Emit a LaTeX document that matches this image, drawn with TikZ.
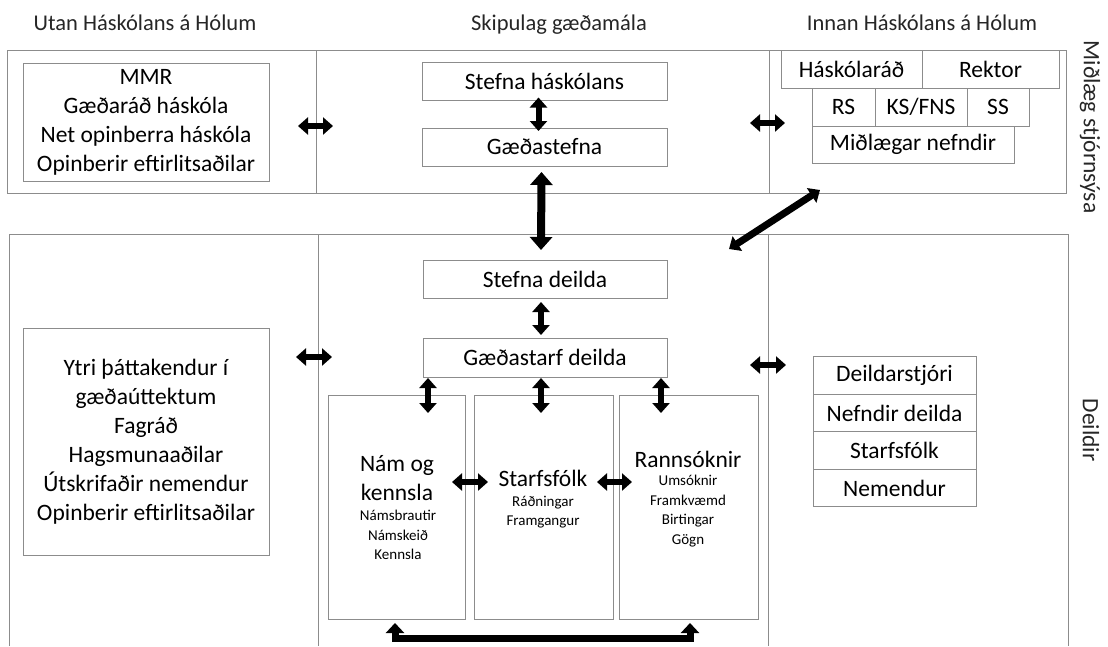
\documentclass[tikz,border=0pt]{standalone}
\usepackage{fontspec}
\setmainfont{Carlito}
\usepackage{tikz}
\usetikzlibrary{arrows.meta, calc, positioning}
\newcommand{\txtbig}{\fontsize{23.5}{29}\selectfont}
\newcommand{\txtsmall}{\fontsize{15}{19.5}\selectfont}
\def\scale{1}

\begin{document}
\begin{tikzpicture}[x=\scale pt, y=-\scale pt, line join=miter,
		frame/.style={draw=gray!90, line width=1pt},
		cell/.style={frame, inner sep=0pt, outer sep=0pt, minimum height=38pt, align=center,
			font=\txtbig, text=black},
		title/.style={anchor=base, font=\fontsize{22.5}{27}\selectfont, text=black!85},
		vlabel/.style={rotate=-90, font=\txtbig, text=black!85},
		dblarrow/.style={line width=6pt, {Triangle[width=17pt,length=10pt]}-{Triangle[width=17pt,length=10pt]}},
		bigarrow/.style={line width=8pt, {Triangle[width=22pt,length=13pt]}-{Triangle[width=22pt,length=13pt]}},
		loopback/.style={line width=7pt, {Triangle[width=18pt,length=10pt]}-{Triangle[width=18pt,length=10pt]}}
	]
	\useasboundingbox (0,0) rectangle (1108,646);

	% column titles
	\node[title] (tout) at (145,30) {Utan Háskólans á Hólum};
	\node[title] (tmid) at (559,30) {Skipulag gæðamála};
	\node[title] (tin) at (922,30) {Innan Háskólans á Hólum};

	% the two bands
	\draw[frame] (7,50) rectangle (1066,193);
	\draw[frame] (316,50) -- (316,193);
	\draw[frame] (769,50) -- (769,193);
	\draw[frame] (9,646) -- (9,234) -- (1068,234) -- (1068,646);
	\draw[frame] (318,234) -- (318,646);
	\draw[frame] (768,234) -- (768,646);

	\node[vlabel] (lblc) at (1090,127) {Miðlæg stjórnsýsa};
	\node[vlabel] (lbld) at (1091,430) {Deildir};

	% top band
	\node[cell, minimum width=246pt, minimum height=118pt] (ext) at (146,122)
		{MMR\\Gæðaráð háskóla\\Net opinberra háskóla\\Opinberir eftirlitsaðilar};
	\node[cell, minimum width=245pt] (sh) at (544.5,81.5) {Stefna háskólans};
	\node[cell, minimum width=245pt] (ge) at (544.5,147) {Gæðastefna};

	\node[cell, minimum width=141pt] (hr) at (851.5,69) {Háskólaráð};
	\node[cell, minimum width=137pt, right=0pt of hr] (rek) {Rektor};
	\node[cell, minimum width=63pt] (rs) at (843.5,107) {RS};
	\node[cell, minimum width=92pt, right=0pt of rs] (ks) {KS/FNS};
	\node[cell, minimum width=62pt, right=0pt of ks] (ss) {SS};
	\node[cell, minimum width=202pt, minimum height=37pt, anchor=north west] (mn) at (rs.south west) {Miðlægar nefndir};

	% bottom band
	\node[cell, minimum width=246pt, minimum height=227pt] (ytri) at (146,441.5)
		{Ytri þáttakendur í\\gæðaúttektum\\Fagráð\\Hagsmunaaðilar\\Útskrifaðir nemendur\\Opinberir eftirlitsaðilar};
	\node[cell, minimum width=244pt] (sd) at (545,279) {Stefna deilda};
	\node[cell, minimum width=244pt, minimum height=39pt] (gd) at (545,357.5) {Gæðastarf deilda};

	\node[cell, minimum width=137pt, minimum height=224pt] (nam) at (396.5,507) {};
	\node[cell, minimum width=139pt, minimum height=224pt] (sta) at (543.5,507) {};
	\node[cell, minimum width=139pt, minimum height=224pt] (ran) at (688.5,507) {};

	\node[align=center, font=\txtbig] (namh) at (397,478) {Nám og\\kennsla};
	\node[align=center, font=\txtsmall] (naml) at (398,535) {Námsbrautir\\Námskeið\\Kennsla};
	\node[align=center, font=\txtbig] (stah) at (543,478) {Starfsfólk};
	\node[align=center, font=\txtsmall] (stal) at (543,512) {Ráðningar\\Framgangur};
	\node[align=center, font=\txtbig] (ranh) at (688,459) {Rannsóknir};
	\node[align=center, font=\txtsmall] (ranl) at (688,511) {Umsóknir\\Framkvæmd\\Birtingar\\Gögn};

	\node[cell, minimum width=163pt, minimum height=37.5pt] (ds) at (894.5,375.5) {Deildarstjóri};
	\node[cell, minimum width=163pt, minimum height=37.5pt, below=0pt of ds] (nd) {Nefndir deilda};
	\node[cell, minimum width=163pt, minimum height=37.5pt, below=0pt of nd] (sf) {Starfsfólk};
	\node[cell, minimum width=163pt, minimum height=37.5pt, below=0pt of sf] (ne) {Nemendur};

	% arrows across the columns
	\coordinate (ua) at (298,126);
	\coordinate (ub) at (333,126);
	\coordinate (ia) at (750,123);
	\coordinate (ib) at (785,123);
	\coordinate (la) at (296,357);
	\coordinate (lb) at (332,357);
	\coordinate (ra) at (750,365);
	\coordinate (rb) at (786,365);
	\coordinate (dg1) at (729,249);
	\coordinate (dg2) at (820,190);
	\draw[dblarrow] (ua) -- (ub);
	\draw[dblarrow] (ia) -- (ib);
	\draw[dblarrow] (la) -- (lb);
	\draw[dblarrow] (ra) -- (rb);
	\draw[dblarrow, line width=7pt] (dg1) -- (dg2);

	% arrows in the middle column
	\draw[dblarrow] ($(sh.south)+(-6,-3)$) -- ($(ge.north)+(-6,3)$);
	\draw[bigarrow] ($(ge.south)+(-3,6)$) -- ($(sd.north)+(-4,-10)$);
	\draw[dblarrow] ($(sd.south)+(-4,4)$) -- ($(gd.north)+(-4,-3)$);

	\coordinate (na) at ($(nam.north)+(31.5,0)$);
	\coordinate (sa) at ($(sta.north)+(-2.5,0)$);
	\coordinate (rn) at ($(ran.north)+(-27.5,0)$);
	\draw[dblarrow] ($(gd.south -| na)+(0,1)$) -- ($(na)+(0,18)$);
	\draw[dblarrow] ($(gd.south -| sa)+(0,1)$) -- ($(sa)+(0,18)$);
	\draw[dblarrow] ($(gd.south -| rn)+(0,1)$) -- ($(rn)+(0,18)$);

	\draw[dblarrow] ($(nam.east)+(-13,-25)$) -- ($(sta.west)+(14,-25)$);
	\draw[dblarrow] ($(sta.east)+(-16,-25)$) -- ($(ran.west)+(13,-25)$);

	\draw[loopback] ($(nam.south)+(-1.5,4)$) -- ++(0,15) -| ($(ran.south)+(1.5,4)$);

\end{tikzpicture}
\end{document}
